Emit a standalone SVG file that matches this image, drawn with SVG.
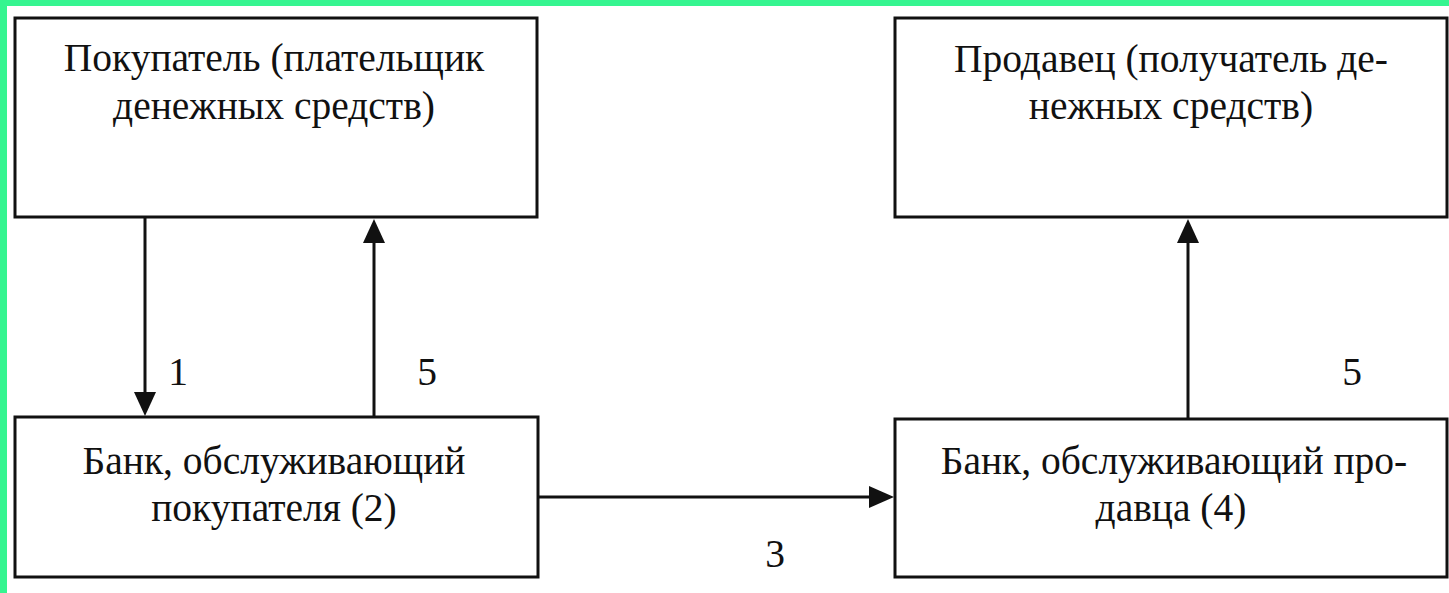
<svg xmlns="http://www.w3.org/2000/svg" width="1449" height="593" viewBox="0 0 1449 593">
<defs>
<style>
.box{fill:#fff;stroke:#111;stroke-width:3}
.t{font-family:"Liberation Serif","Times New Roman",serif;font-size:39.5px;fill:#111;text-anchor:middle}
.c{stroke:#111;stroke-width:3;fill:none}
</style>
</defs>
<rect x="0" y="0" width="1449" height="593" fill="#fff"/>
<rect x="0" y="0" width="1449" height="6" fill="#35f590"/>
<rect x="0" y="0" width="7" height="593" fill="#35f590"/>
<g id="buyer">
<rect class="box" x="15" y="18" width="522" height="199"/>
<text class="t" x="274" y="71">Покупатель (плательщик</text>
<text class="t" x="274" y="119">денежных средств)</text>
</g>
<g id="seller">
<rect class="box" x="895" y="18" width="552" height="199"/>
<text class="t" x="1171" y="72">Продавец (получатель де-</text>
<text class="t" x="1171" y="119">нежных средств)</text>
</g>
<g id="buyer-bank">
<rect class="box" x="15" y="417" width="523" height="160"/>
<text class="t" x="274" y="474">Банк, обслуживающий</text>
<text class="t" x="274" y="521">покупателя (2)</text>
</g>
<g id="seller-bank">
<rect class="box" x="895" y="419" width="552" height="158"/>
<text class="t" x="1174" y="474">Банк, обслуживающий про-</text>
<text class="t" x="1171" y="521">давца (4)</text>
</g>
<g id="connectors">
<line class="c" x1="145" y1="217" x2="145" y2="400"/>
<path d="M134,392 L156,392 L145,416 z" fill="#111"/>
<line class="c" x1="374" y1="417" x2="374" y2="235"/>
<path d="M363,243 L385,243 L374,219 z" fill="#111"/>
<line class="c" x1="1188" y1="419" x2="1188" y2="235"/>
<path d="M1177,243 L1199,243 L1188,219 z" fill="#111"/>
<line class="c" x1="538" y1="497" x2="880" y2="497"/>
<path d="M869,486 L869,508 L894,497 z" fill="#111"/>
<text class="t" x="178" y="385">1</text>
<text class="t" x="427" y="385">5</text>
<text class="t" x="1352" y="385">5</text>
<text class="t" x="775" y="567">3</text>
</g>
</svg>
